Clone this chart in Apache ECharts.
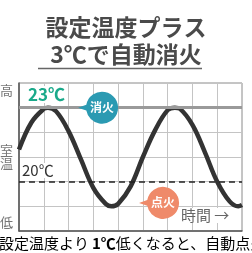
<!DOCTYPE html>
<html>
<head>
<meta charset="utf-8">
<script src="https://cdn.jsdelivr.net/npm/echarts@6/dist/echarts.min.js"></script>
<style>
  html, body { margin: 0; padding: 0; background: #fff; }
  #chart { width: 252px; height: 253px; }
</style>
</head>
<body>
<div id="chart"></div>
<script>
// 時間軸（グリッド単位）と室温（℃）— 図から読み取った値
const timeSteps = [0, 0.5, 1, 1.17, 1.5, 2, 2.5, 3, 3.5, 3.73, 4, 4.5, 5, 5.5, 6, 6.29, 6.5, 7, 7.5, 8, 8.5, 8.85, 9];
const roomTemp = [21.3, 22.4, 22.95, 23.0, 22.85, 22.05, 20.9, 19.75, 19.1, 19.0, 19.1, 19.8, 21.0, 22.1, 22.9, 23.0, 22.95, 22.3, 21.2, 20.0, 19.2, 19.0, 19.05];
const setTemp = 23;   // 消火温度
const baseTemp = 20;  // 設定温度
const yRange = [18, 24];
const xRange = [0, 9];
const bubbles = [
  { name: '消火', coord: [3.03, 23.0], color: '#2b9ab2' },
  { name: '点火', coord: [5.49, 19.14], color: '#ef8a6a' }
];

const myChart = echarts.init(document.getElementById('chart'));

// 吹き出し（左向きのしっぽ付き円）
const bubblePath = 'path://M0,16 L8.24,13.2 A16,16 0 1 1 8.24,18.8 Z';

const option = {
  animation: false,
  grid: {
    left: 19,
    right: 10,
    top: 83,
    bottom: 22,
    show: true,
    borderColor: '#8a8a8a',
    borderWidth: 1
  },
  xAxis: {
    type: 'value',
    min: xRange[0],
    max: xRange[1],
    interval: 1,
    axisLine: { show: true, lineStyle: { color: '#555', width: 1.5 } },
    axisTick: { show: false },
    axisLabel: { show: false },
    splitLine: { show: true, lineStyle: { color: '#c4c4c4', width: 1 } }
  },
  yAxis: {
    type: 'value',
    min: yRange[0],
    max: yRange[1],
    interval: 1,
    axisLine: { show: true, lineStyle: { color: '#555', width: 1.5 } },
    axisTick: { show: false },
    axisLabel: { show: false },
    splitLine: { show: true, lineStyle: { color: '#c4c4c4', width: 1 } }
  },
  series: [
    {
      // 基準線（下に描く）
      type: 'line',
      data: [],
      z: 1,
      silent: true,
      markLine: {
        symbol: ['none', 'none'],
        label: { show: false },
        silent: true,
        data: [
          { yAxis: setTemp, lineStyle: { color: '#9a9a9a', width: 3, type: 'solid' } },
          { yAxis: baseTemp, lineStyle: { color: '#222', width: 1.6, type: [6, 4] } }
        ]
      }
    },
    {
      type: 'line',
      z: 3,
      smooth: 0.4,
      showSymbol: false,
      data: timeSteps.map((t, i) => [t, roomTemp[i]]),
      lineStyle: { color: '#333', width: 4.5 },
      markPoint: {
        symbol: bubblePath,
        symbolSize: [40, 32],
        symbolOffset: [4, 0],
        data: bubbles.map((b) => ({
          name: b.name,
          coord: b.coord,
          itemStyle: { color: b.color },
          label: {
            show: true,
            formatter: b.name,
            position: 'inside',
            offset: [4, 0],
            color: '#fff',
            fontSize: 12,
            fontWeight: 'bold',
            fontFamily: 'Noto Sans CJK JP'
          }
        }))
      }
    }
  ],
  graphic: [
    // タイトル
    {
      type: 'text', left: 'center', top: 16, z: 10,
      style: { text: '設定温度プラス', fontSize: 23, fontWeight: 'bold', fill: '#4a4a4a', fontFamily: 'Noto Sans CJK JP' }
    },
    {
      type: 'text', left: 'center', top: 43, z: 10,
      style: { text: '3℃で自動消火', fontSize: 23, fontWeight: 'bold', fill: '#4a4a4a', fontFamily: 'Noto Sans CJK JP' }
    },
    {
      type: 'line', z: 10,
      shape: { x1: 38, y1: 68.5, x2: 202, y2: 68.5 },
      style: { stroke: '#666', lineWidth: 1.5 }
    },
    // 縦軸ラベル
    { type: 'text', left: 0, top: 84, style: { text: '高', fontSize: 13, fill: '#777', fontFamily: 'Noto Sans CJK JP' } },
    { type: 'text', left: 0, top: 144, style: { text: '室', fontSize: 13, fill: '#777', fontFamily: 'Noto Sans CJK JP' } },
    { type: 'text', left: 0, top: 157, style: { text: '温', fontSize: 13, fill: '#777', fontFamily: 'Noto Sans CJK JP' } },
    { type: 'text', left: 0, top: 216, style: { text: '低', fontSize: 13, fill: '#777', fontFamily: 'Noto Sans CJK JP' } },
    // 温度ラベル
    {
      type: 'text', left: 26, top: 86, z: 5,
      style: { text: '23℃', fontSize: 17, fontWeight: 'bold', fill: '#1aa98a', backgroundColor: '#fff', padding: [0, 2], fontFamily: 'Noto Sans CJK JP' }
    },
    {
      type: 'text', left: 21, top: 163, z: 5,
      style: { text: '20℃', fontSize: 15, fill: '#333', backgroundColor: '#fff', padding: [0, 1], fontFamily: 'Noto Sans CJK JP' }
    },
    {
      type: 'text', left: 179, top: 208, z: 5,
      style: { text: '時間 →', fontSize: 15, fill: '#666', backgroundColor: '#fff', padding: [0, 2], fontFamily: 'Noto Sans CJK JP' }
    },
    // 下の説明文
    {
      type: 'text', left: -1, top: 236, z: 10,
      style: {
        text: '{a|設定温度より}{b|1℃}{a|低くなると、自動点火}',
        fontFamily: 'Noto Sans CJK JP',
        rich: {
          a: { fontSize: 15, color: '#333', fontFamily: 'Noto Sans CJK JP' },
          b: { fontSize: 15, fontWeight: 'bold', color: '#333', padding: [0, 0, 0, 3], fontFamily: 'Noto Sans CJK JP' }
        }
      }
    }
  ]
};

option && myChart.setOption(option);
window.addEventListener('resize', myChart.resize);
</script>
</body>
</html>
